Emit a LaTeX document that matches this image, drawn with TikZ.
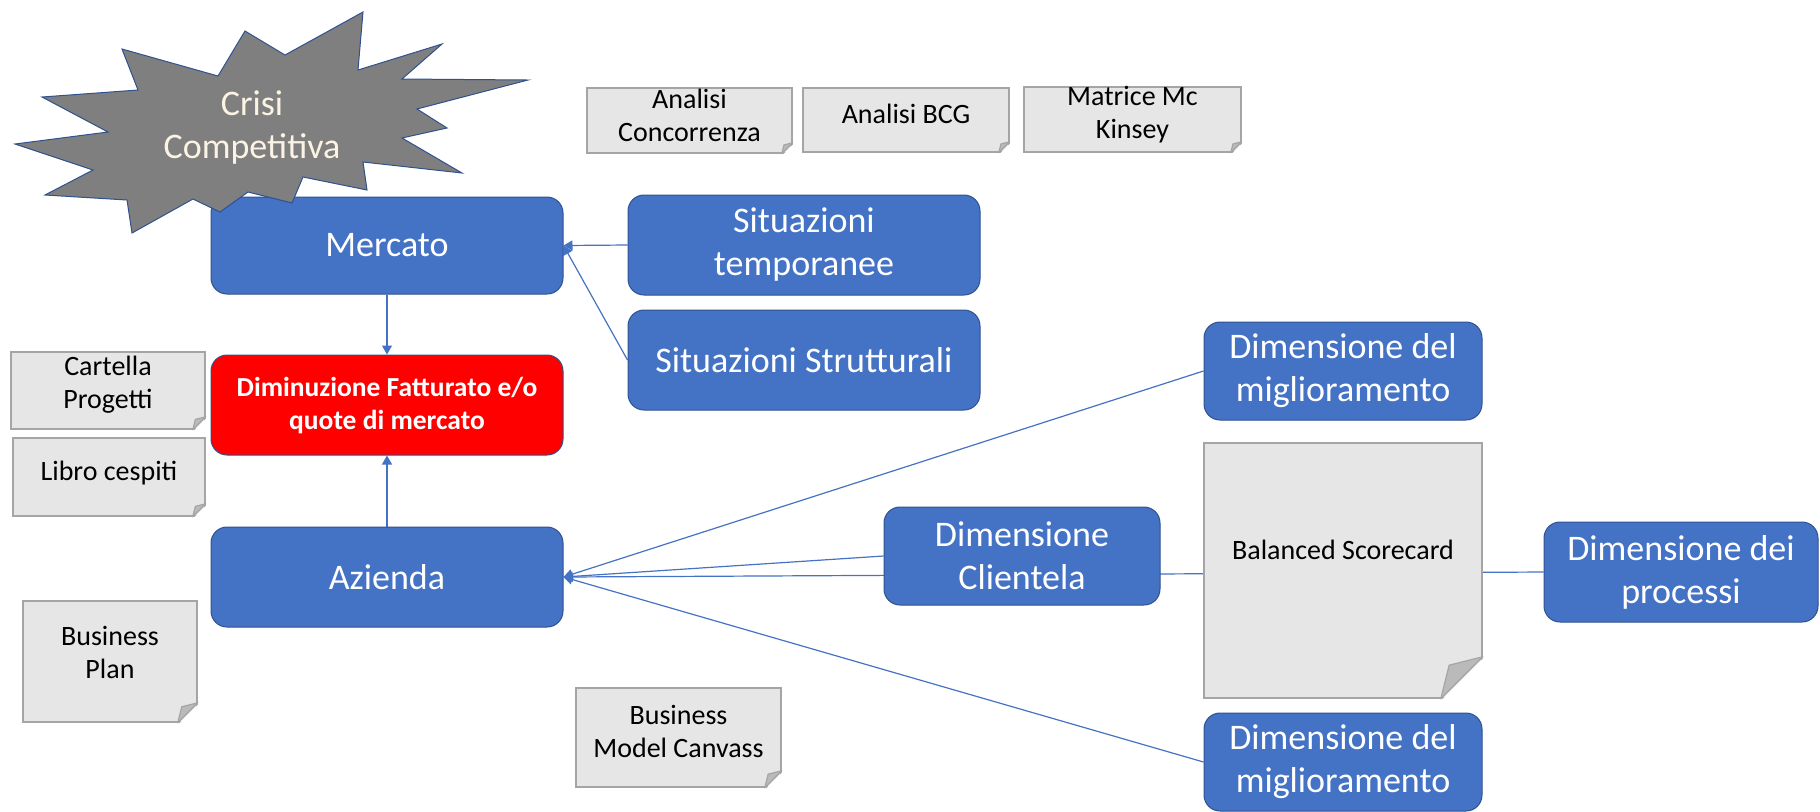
\documentclass[tikz,border=0pt]{standalone}
\usepackage{fontspec}
\setmainfont{Carlito}
\usetikzlibrary{arrows.meta}

\definecolor{boxblue}{HTML}{4472C4}
\definecolor{boxedge}{HTML}{2F528F}
\definecolor{boxred}{HTML}{FF0000}
\definecolor{notefill}{HTML}{E7E6E6}
\definecolor{noteedge}{HTML}{A5A5A5}
\definecolor{foldfill}{HTML}{BABABA}
\definecolor{burstgray}{HTML}{7F7F7F}
\definecolor{bursttext}{HTML}{FBF3E4}

\pgfdeclarelayer{back}
\pgfsetlayers{back,main}

\tikzset{
  blubox/.style={draw=boxedge, line width=0.5pt, fill=boxblue, rounded corners=8pt,
    text=white, align=center, inner sep=1pt, font=\fontsize{18}{21.5}\selectfont},
  redbox/.style={blubox, fill=boxred, font=\fontsize{13.75}{16.5}\selectfont\bfseries},
  note/.style={draw=noteedge, line width=0.75pt, fill=notefill, inner sep=0pt},
  notetext/.style={align=center, font=\fontsize{14}{16.5}\selectfont, inner sep=0pt},
  link/.style={draw=boxblue, line width=0.6pt, -{Triangle[length=4.5pt,width=5pt]}},
}

% folded corner of a note: name, fold size
\newcommand{\fold}[2]{
  \fill[white] ([xshift=-#2,yshift=-1pt]#1.south east) -- ([xshift=1pt,yshift=-1pt]#1.south east)
    -- ([xshift=1pt,yshift=#2]#1.south east) -- cycle;
  \draw[noteedge, fill=foldfill, line width=0.6pt, line join=round] ([xshift=-#2]#1.south east)
    -- ([yshift=#2]#1.south east) -- ([xshift=-0.8*#2,yshift=0.8*#2]#1.south east) -- cycle;
}

\begin{document}
\begin{tikzpicture}[x=0.5pt, y=-0.5pt]
  \useasboundingbox (0,0) rectangle (1820,811);

  % main column
  \node[blubox, minimum width=176pt, minimum height=48.5pt] (merc) at (387,245.5) {Mercato};
  \node[redbox, minimum width=176pt, minimum height=50pt] (dimin) at (387,405) {Diminuzione Fatturato e/o\\quote di mercato};
  \node[blubox, minimum width=176pt, minimum height=50pt] (az) at (387,577) {Azienda};
  \node[blubox, minimum width=176pt, minimum height=50pt] (temp) at (804,245) {Situazioni\\temporanee};
  \node[blubox, minimum width=176pt, minimum height=50pt] (strut) at (804,360) {Situazioni Strutturali};

  % dimensions
  \node[blubox, minimum width=139pt, minimum height=49pt] (migl1) at (1343,371) {Dimensione del\\miglioramento};
  \node[blubox, minimum width=138pt, minimum height=49pt] (clien) at (1022,556) {Dimensione\\Clientela};
  \node[blubox, minimum width=137pt, minimum height=50pt] (proc) at (1681,572) {Dimensione dei\\processi};
  \node[blubox, minimum width=139pt, minimum height=49pt] (migl2) at (1343,762) {Dimensione del\\miglioramento};

  % notes
  \node[note, minimum width=102.5pt, minimum height=32.5pt] (ac) at (689.5,120.5) {};
  \node[note, minimum width=103pt, minimum height=32pt] (bcg) at (906,120) {};
  \node[note, minimum width=108.5pt, minimum height=32.5pt] (mck) at (1132.5,119.5) {};
  \node[note, minimum width=97pt, minimum height=38.5pt] (cp) at (108,390.5) {};
  \node[note, minimum width=96pt, minimum height=39pt] (lc) at (109,477) {};
  \node[note, minimum width=87pt, minimum height=60.5pt] (bp) at (110,661.5) {};
  \node[note, minimum width=102.5pt, minimum height=49.5pt] (bmc) at (678.5,737.5) {};
  \node[note, minimum width=139pt, minimum height=127.5pt] (bsc) at (1343,570.5) {};
  \fold{ac}{5.5pt} \fold{bcg}{5.5pt} \fold{mck}{5.5pt}
  \fold{cp}{6.5pt} \fold{lc}{6.5pt} \fold{bp}{10pt}
  \fold{bmc}{8.5pt} \fold{bsc}{21pt}
  \node[notetext] at ([yshift=2.5pt]ac) {Analisi\\Concorrenza};
  \node[notetext] at ([yshift=3pt]bcg) {Analisi BCG};
  \node[notetext] at ([yshift=2.5pt]mck) {Matrice Mc\\Kinsey};
  \node[notetext] at ([yshift=3pt]cp) {Cartella\\Progetti};
  \node[notetext] at ([yshift=2pt]lc) {Libro cespiti};
  \node[notetext] at ([yshift=4.5pt]bp) {Business\\Plan};
  \node[notetext] at ([yshift=3pt]bmc) {Business\\Model Canvass};
  \node[notetext] at ([yshift=10.5pt]bsc) {Balanced Scorecard};

  % connectors
  \begin{pgfonlayer}{back}
    \draw[link] (temp.west) -- (merc.east);
    \draw[link] (strut.west) -- (merc.east);
    \draw[link] (merc) -- (dimin);
    \draw[link] (az) -- (dimin);
    \draw[link] (migl1.west) -- (az.east);
    \draw[link] (clien.west) -- (az.east);
    \draw[link] (proc.west) -- (az.east);
    \draw[link] (migl2.west) -- (az.east);
  \end{pgfonlayer}

  % crisis star
  \filldraw[fill=burstgray, draw=boxedge, line width=0.5pt] (363,12) -- (358,70) -- (442,44) -- (402,79)
    -- (528,80) -- (417,109) -- (447,128) -- (402,138) -- (462,173) -- (363,162) -- (367,190)
    -- (303,177) -- (292,203) -- (248,192) -- (220,212) -- (193,199) -- (132,233) -- (127,200)
    -- (45,195) -- (93,170) -- (15,144) -- (108,132) -- (42,97) -- (138,90) -- (122,49)
    -- (218,76) -- (245,31) -- (285,55) -- cycle;
  \node[align=center, text=bursttext, font=\fontsize{18}{21.5}\selectfont] (crisi) at (252,128) {Crisi\\Competitiva};
\end{tikzpicture}
\end{document}
